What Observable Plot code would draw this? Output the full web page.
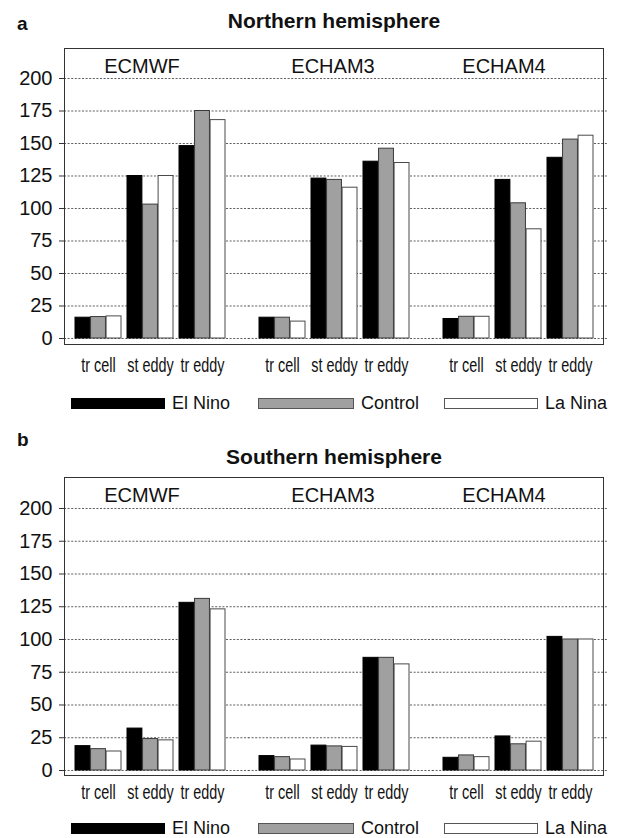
<!DOCTYPE html>
<html><head><meta charset="utf-8">
<script src="https://cdn.jsdelivr.net/npm/d3@7"></script>
<script src="https://cdn.jsdelivr.net/npm/@observablehq/plot@0.6"></script>
<style>
body{margin:0;background:#fff;}
#root{position:relative;width:620px;height:838px;overflow:hidden;font-family:"Liberation Sans",Arial,Helvetica,sans-serif;color:#111;}
.abs{position:absolute;white-space:nowrap;}
.letter{font-weight:bold;font-size:19px;}
.title{font-weight:bold;font-size:21px;transform:translateX(-50%);}
.sw{position:absolute;height:11px;box-sizing:border-box;}
.lt{position:absolute;font-size:18px;line-height:20px;white-space:nowrap;}
svg{position:absolute;left:0;overflow:visible;}
</style></head><body><div id="root"></div>
<script>
const models = ["ECMWF", "ECHAM3", "ECHAM4"];
const components = ["tr cell", "st eddy", "tr eddy"];
const scenarios = ["El Nino", "Control", "La Nina"];
const tickValues = [0, 25, 50, 75, 100, 125, 150, 175, 200];

// Northern hemisphere, rows = model, cols = component
const nhElNino  = [[16, 125, 148], [16, 123, 136], [15, 122, 139]];
const nhControl = [[16.5, 103, 175], [16, 122, 146], [16.7, 104, 153]];
const nhLaNina  = [[17, 125, 168], [13, 116, 135], [16.7, 84, 156]];
// Southern hemisphere
const shElNino  = [[18.6, 32, 128], [11, 19, 86], [9.7, 26, 102]];
const shControl = [[16.3, 24, 131], [10.2, 18.4, 86], [11.5, 20, 100]];
const shLaNina  = [[14.5, 23, 123], [8.4, 18, 81], [10.2, 22, 100]];

function rowsOf(series) {
  const out = [];
  scenarios.forEach((s, si) => models.forEach((m, mi) => components.forEach((c, ci) =>
    out.push({scenario: s, model: m, component: c, value: series[si][mi][ci]}))));
  return out;
}

const root = document.getElementById("root");
function addDiv(cls, text, left, top) {
  const d = document.createElement("div");
  d.className = cls; d.textContent = text;
  d.style.left = left + "px"; d.style.top = top + "px";
  root.appendChild(d); return d;
}

function panel(series, opts) {
  const W = 620, mL = 63, mR = 15, fxPad = 0.07, xPi = 0.125, xPo = 0.176;
  const step = (W - mL - mR) / (3 - fxPad);
  const facetW = step * (1 - fxPad);
  const gap = step - facetW;
  const bandW = facetW / (3 - xPi + 2 * xPo) * (1 - xPi);
  const third = bandW / 3;
  const barStyle = {
    "El Nino": {fill: "#000", stroke: "#000", insetLeft: 0, insetRight: 2 * third},
    "Control": {fill: "#a0a0a0", stroke: "#3a3a3a", insetLeft: third, insetRight: third},
    "La Nina": {fill: "#fff", stroke: "#4a4a4a", insetLeft: 2 * third, insetRight: 0}
  };
  const rows = rowsOf(series);
  const gridRows = models.flatMap(m => tickValues.map(t => ({model: m, tick: t})));
  const lastModel = models[models.length - 1];
  const gridStyle = {stroke: "#333", strokeWidth: 0.8, strokeDasharray: "2,1.6"};
  const labelDx = [-8, -1, -14];
  const svg = Plot.plot({
    width: W, height: opts.height,
    marginLeft: mL, marginRight: mR, marginTop: opts.mTop, marginBottom: opts.mBottom,
    style: {fontFamily: '"Liberation Sans", Arial, sans-serif', color: "#111", background: "transparent"},
    fx: {domain: models, paddingInner: fxPad, paddingOuter: 0, axis: null, label: null},
    x: {domain: components, paddingInner: xPi, paddingOuter: xPo, label: null},
    y: {domain: opts.yDomain, label: null},
    marks: [
      Plot.ruleY(gridRows.filter(d => d.model !== lastModel), {fx: "model", y: "tick", insetRight: -gap - 0.5, ...gridStyle}),
      Plot.ruleY(gridRows.filter(d => d.model === lastModel), {fx: "model", y: "tick", insetRight: -4, ...gridStyle}),
      ...scenarios.map(s => Plot.barY(rows.filter(r => r.scenario === s), {
        fx: "model", x: "component", y1: 0, y2: "value", strokeWidth: 1, ...barStyle[s]
      })),
      Plot.axisY({ticks: tickValues, tickSize: 5, tickPadding: 7, fontSize: 20, label: null, stroke: "#333"}),
      Plot.axisX({tickSize: 0, tickPadding: opts.xPad, fontSize: 20, label: null}),
      Plot.frame({facet: "super", stroke: "#333", strokeWidth: 1}),
      ...models.map((m, i) => Plot.text([m], {fx: d => d, text: d => d, frameAnchor: "top", lineAnchor: "top",
        dy: 10, dx: labelDx[i], fontSize: 20}))
    ]
  });
  // condensed look of the category labels (narrow typeface in the original)
  svg.querySelectorAll('g[aria-label="x-axis tick label"] text').forEach(t => {
    const x = +t.getAttribute("x") || 0;
    const tr = t.getAttribute("transform") || "";
    t.setAttribute("transform", `${tr} translate(${x},0) scale(0.72,1) translate(${-x},0)`);
  });
  svg.style.top = opts.top + "px";
  root.appendChild(svg);
}

// Panel a
addDiv("abs letter", "a", 17, 13);
addDiv("abs title", "Northern hemisphere", 334, 9);
panel([nhElNino, nhControl, nhLaNina], {top: 40, height: 345, mTop: 8, mBottom: 41, yDomain: [-4.62, 223.08], xPad: 13});

// Panel b
addDiv("abs letter", "b", 17, 429);
addDiv("abs title", "Southern hemisphere", 334, 445);
panel([shElNino, shControl, shLaNina], {top: 469, height: 346, mTop: 8, mBottom: 40, yDomain: [-3.82, 223.66], xPad: 9});

// Legends
function legend(top) {
  const items = [
    {bg: "#000", border: "#000", left: 71, w: 94},
    {bg: "#a0a0a0", border: "#555", left: 258, w: 96},
    {bg: "#fff", border: "#555", left: 444, w: 94}
  ];
  items.forEach((it, i) => {
    const sw = document.createElement("div");
    sw.className = "sw";
    Object.assign(sw.style, {left: it.left + "px", top: (top + 5) + "px", width: it.w + "px",
      background: it.bg, border: "1px solid " + it.border});
    root.appendChild(sw);
    addDiv("lt", scenarios[i], it.left + it.w + 7, top);
  });
}
legend(393);
legend(818);
</script></body></html>
